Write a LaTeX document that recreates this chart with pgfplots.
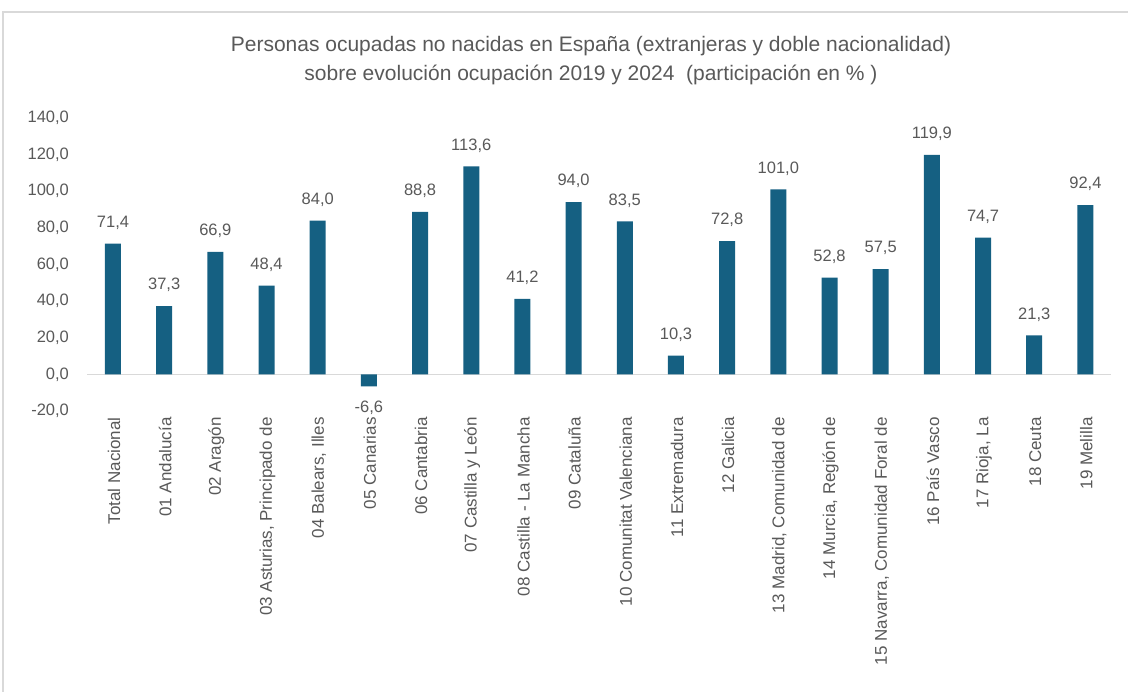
\documentclass[border=0pt]{standalone}
\usepackage{pgfplots}
\pgfplotsset{compat=1.18}
\usepackage{fontspec}
\setmainfont{Liberation Sans}
\definecolor{barblue}{HTML}{156082}
\definecolor{txt}{HTML}{595959}
\definecolor{frame}{HTML}{D9D9D9}
\begin{document}
\begin{tikzpicture}
\useasboundingbox (0,0) rectangle (1128bp,692bp);
\draw[frame, line width=1.5bp] (3bp,0) -- (3bp,680bp) -- (1128bp,680bp);
\node[txt, font=\fontsize{21bp}{25bp}\selectfont] at (591bp,646bp) {Personas ocupadas no nacidas en España (extranjeras y doble nacionalidad)};
\node[txt, font=\fontsize{21bp}{25bp}\selectfont] at (591bp,617bp) {sobre evolución ocupación 2019 y 2024 \ (participación en \% )};
\begin{axis}[
  at={(87.4bp,281bp)}, anchor=south west,
  scale only axis,
  width=1023.6bp, height=293bp,
  xmin=-0.5, xmax=19.5,
  ymin=-20, ymax=140,
  ytick={-20,0,...,140},
  axis line style={draw=none},
  tick style={draw=none},
  extra y ticks={0},
  extra y tick labels={},
  extra y tick style={grid=major, grid style={frame, line width=1.5bp}},
  ybar, bar width=16bp,
  xtick=data,
  xticklabels={Total Nacional,01 Andalucía,02 Aragón,{03 Asturias, Principado de},{04 Balears, Illes},05 Canarias,06 Cantabria,07 Castilla y León,08 Castilla - La Mancha,09 Cataluña,10 Comunitat Valenciana,11 Extremadura,12 Galicia,{13 Madrid, Comunidad de},{14 Murcia, Región de},{15 Navarra, Comunidad Foral de},16 País Vasco,{17 Rioja, La},18 Ceuta,19 Melilla},
  x tick label style={rotate=90, anchor=east, font=\fontsize{17bp}{20bp}\selectfont, text=txt, inner sep=2bp, yshift=-1bp},
  y tick label style={font=\fontsize{16.5bp}{19bp}\selectfont, text=txt, xshift=-15bp},
  /pgf/number format/.cd, fixed, fixed zerofill, precision=1, use comma, 1000 sep={}, assume math mode=true,
  /pgfplots/.cd,
  nodes near coords,
  every node near coord/.append style={font=\fontsize{16.5bp}{19bp}\selectfont, text=txt, inner ysep=14bp},
  clip=false,
]
\addplot[fill=barblue, draw=none] coordinates {
(0,71.4) (1,37.3) (2,66.9) (3,48.4) (4,84.0) (5,-6.6) (6,88.8) (7,113.6) (8,41.2) (9,94.0)
(10,83.5) (11,10.3) (12,72.8) (13,101.0) (14,52.8) (15,57.5) (16,119.9) (17,74.7) (18,21.3) (19,92.4)
};
\end{axis}
\end{tikzpicture}
\end{document}
